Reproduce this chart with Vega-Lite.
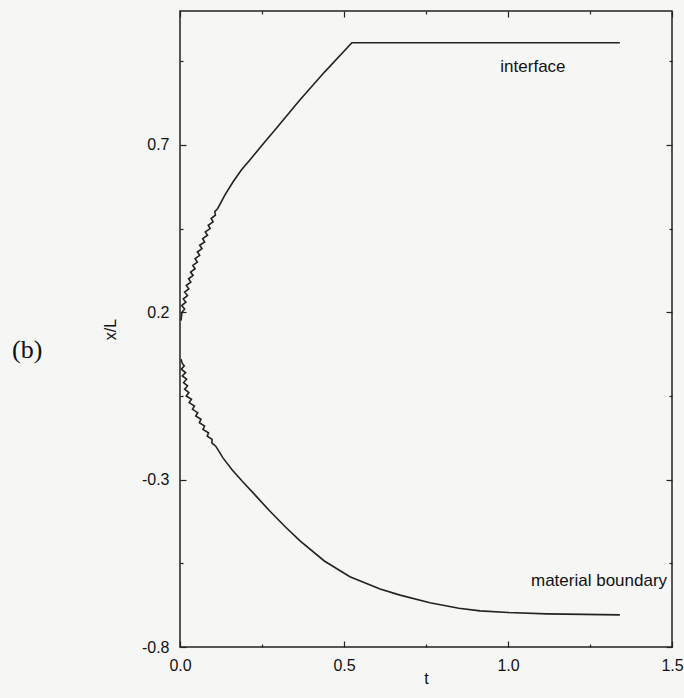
{
  "$schema": "https://vega.github.io/schema/vega-lite/v6.json",
  "width": 492,
  "height": 636,
  "autosize": "none",
  "padding": {"left": 180, "top": 11, "right": 12, "bottom": 51},
  "background": "#f6f6f4",
  "config": {
    "view": {"stroke": "#222", "strokeWidth": 1.5},
    "font": "Liberation Sans",
    "axis": {
      "domain": false, "grid": false, "labelFlush": false,
      "tickColor": "#222", "tickWidth": 1.2,
      "labelFont": "Liberation Sans", "labelFontSize": 16, "labelColor": "#111",
      "titleFont": "Liberation Sans", "titleFontSize": 16, "titleFontWeight": "normal", "titleColor": "#111"
    }
  },
  "datasets": {
    "curves": [
      {"curve": "interface", "i": 1, "t": 0.003, "xL": 0.175},
      {"curve": "interface", "i": 2, "t": 0.006, "xL": 0.2},
      {"curve": "interface", "i": 3, "t": 0.014, "xL": 0.21},
      {"curve": "interface", "i": 4, "t": 0.005, "xL": 0.22},
      {"curve": "interface", "i": 5, "t": 0.018, "xL": 0.23},
      {"curve": "interface", "i": 6, "t": 0.01, "xL": 0.24},
      {"curve": "interface", "i": 7, "t": 0.023, "xL": 0.25},
      {"curve": "interface", "i": 8, "t": 0.014, "xL": 0.26},
      {"curve": "interface", "i": 9, "t": 0.027, "xL": 0.27},
      {"curve": "interface", "i": 10, "t": 0.019, "xL": 0.28},
      {"curve": "interface", "i": 11, "t": 0.033, "xL": 0.29},
      {"curve": "interface", "i": 12, "t": 0.026, "xL": 0.3},
      {"curve": "interface", "i": 13, "t": 0.04, "xL": 0.31},
      {"curve": "interface", "i": 14, "t": 0.032, "xL": 0.32},
      {"curve": "interface", "i": 15, "t": 0.046, "xL": 0.33},
      {"curve": "interface", "i": 16, "t": 0.039, "xL": 0.34},
      {"curve": "interface", "i": 17, "t": 0.053, "xL": 0.35},
      {"curve": "interface", "i": 18, "t": 0.046, "xL": 0.36},
      {"curve": "interface", "i": 19, "t": 0.06, "xL": 0.37},
      {"curve": "interface", "i": 20, "t": 0.053, "xL": 0.38},
      {"curve": "interface", "i": 21, "t": 0.067, "xL": 0.39},
      {"curve": "interface", "i": 22, "t": 0.06, "xL": 0.4},
      {"curve": "interface", "i": 23, "t": 0.075, "xL": 0.41},
      {"curve": "interface", "i": 24, "t": 0.069, "xL": 0.42},
      {"curve": "interface", "i": 25, "t": 0.084, "xL": 0.43},
      {"curve": "interface", "i": 26, "t": 0.077, "xL": 0.44},
      {"curve": "interface", "i": 27, "t": 0.092, "xL": 0.45},
      {"curve": "interface", "i": 28, "t": 0.086, "xL": 0.46},
      {"curve": "interface", "i": 29, "t": 0.101, "xL": 0.47},
      {"curve": "interface", "i": 30, "t": 0.095, "xL": 0.48},
      {"curve": "interface", "i": 31, "t": 0.108, "xL": 0.49},
      {"curve": "interface", "i": 32, "t": 0.106, "xL": 0.5},
      {"curve": "interface", "i": 33, "t": 0.115, "xL": 0.51},
      {"curve": "interface", "i": 34, "t": 0.138, "xL": 0.552},
      {"curve": "interface", "i": 35, "t": 0.162, "xL": 0.59},
      {"curve": "interface", "i": 36, "t": 0.187, "xL": 0.625},
      {"curve": "interface", "i": 37, "t": 0.213, "xL": 0.655},
      {"curve": "interface", "i": 38, "t": 0.25, "xL": 0.699},
      {"curve": "interface", "i": 39, "t": 0.29, "xL": 0.745},
      {"curve": "interface", "i": 40, "t": 0.366, "xL": 0.835},
      {"curve": "interface", "i": 41, "t": 0.442, "xL": 0.919},
      {"curve": "interface", "i": 42, "t": 0.524, "xL": 1.005},
      {"curve": "interface", "i": 43, "t": 1.341, "xL": 1.005},
      {"curve": "material boundary", "i": 1, "t": 0.003, "xL": 0.06},
      {"curve": "material boundary", "i": 2, "t": 0.007, "xL": 0.047},
      {"curve": "material boundary", "i": 3, "t": 0.013, "xL": 0.04},
      {"curve": "material boundary", "i": 4, "t": 0.004, "xL": 0.03},
      {"curve": "material boundary", "i": 5, "t": 0.017, "xL": 0.02},
      {"curve": "material boundary", "i": 6, "t": 0.007, "xL": 0.01},
      {"curve": "material boundary", "i": 7, "t": 0.02, "xL": 0.0},
      {"curve": "material boundary", "i": 8, "t": 0.011, "xL": -0.01},
      {"curve": "material boundary", "i": 9, "t": 0.023, "xL": -0.02},
      {"curve": "material boundary", "i": 10, "t": 0.014, "xL": -0.03},
      {"curve": "material boundary", "i": 11, "t": 0.027, "xL": -0.04},
      {"curve": "material boundary", "i": 12, "t": 0.019, "xL": -0.05},
      {"curve": "material boundary", "i": 13, "t": 0.035, "xL": -0.06},
      {"curve": "material boundary", "i": 14, "t": 0.028, "xL": -0.07},
      {"curve": "material boundary", "i": 15, "t": 0.044, "xL": -0.08},
      {"curve": "material boundary", "i": 16, "t": 0.038, "xL": -0.09},
      {"curve": "material boundary", "i": 17, "t": 0.054, "xL": -0.1},
      {"curve": "material boundary", "i": 18, "t": 0.048, "xL": -0.11},
      {"curve": "material boundary", "i": 19, "t": 0.064, "xL": -0.12},
      {"curve": "material boundary", "i": 20, "t": 0.059, "xL": -0.13},
      {"curve": "material boundary", "i": 21, "t": 0.075, "xL": -0.14},
      {"curve": "material boundary", "i": 22, "t": 0.07, "xL": -0.15},
      {"curve": "material boundary", "i": 23, "t": 0.087, "xL": -0.16},
      {"curve": "material boundary", "i": 24, "t": 0.083, "xL": -0.17},
      {"curve": "material boundary", "i": 25, "t": 0.098, "xL": -0.18},
      {"curve": "material boundary", "i": 26, "t": 0.097, "xL": -0.19},
      {"curve": "material boundary", "i": 27, "t": 0.109, "xL": -0.2},
      {"curve": "material boundary", "i": 28, "t": 0.131, "xL": -0.235},
      {"curve": "material boundary", "i": 29, "t": 0.16, "xL": -0.272},
      {"curve": "material boundary", "i": 30, "t": 0.19, "xL": -0.305},
      {"curve": "material boundary", "i": 31, "t": 0.23, "xL": -0.347},
      {"curve": "material boundary", "i": 32, "t": 0.27, "xL": -0.39},
      {"curve": "material boundary", "i": 33, "t": 0.32, "xL": -0.44},
      {"curve": "material boundary", "i": 34, "t": 0.366, "xL": -0.483},
      {"curve": "material boundary", "i": 35, "t": 0.44, "xL": -0.543},
      {"curve": "material boundary", "i": 36, "t": 0.518, "xL": -0.59},
      {"curve": "material boundary", "i": 37, "t": 0.61, "xL": -0.627},
      {"curve": "material boundary", "i": 38, "t": 0.671, "xL": -0.645},
      {"curve": "material boundary", "i": 39, "t": 0.762, "xL": -0.668},
      {"curve": "material boundary", "i": 40, "t": 0.85, "xL": -0.684},
      {"curve": "material boundary", "i": 41, "t": 0.915, "xL": -0.692},
      {"curve": "material boundary", "i": 42, "t": 1.0, "xL": -0.697},
      {"curve": "material boundary", "i": 43, "t": 1.118, "xL": -0.701},
      {"curve": "material boundary", "i": 44, "t": 1.341, "xL": -0.704}
    ]
  },
  "resolve": {"axis": {"x": "independent", "y": "independent"}},
  "layer": [
    {
      "data": {"name": "curves"},
      "mark": {"type": "line", "color": "#222", "strokeWidth": 1.6, "strokeJoin": "miter"},
      "encoding": {
        "x": {"field": "t", "type": "quantitative",
          "scale": {"domain": [0, 1.5], "nice": false, "zero": false},
          "axis": {"orient": "bottom", "values": [0, 0.5, 1, 1.5], "format": ".1f", "labelExpr": "replace(datum.label, '\u2212', '-')", "tickSize": -6, "labelPadding": 16,
            "title": "t", "titleX": 246, "titleY": 31, "titleBaseline": "middle", "titleAlign": "center"}},
        "y": {"field": "xL", "type": "quantitative",
          "scale": {"domain": [-0.8, 1.1], "nice": false, "zero": false},
          "axis": {"orient": "left", "values": [-0.8, -0.3, 0.2, 0.7], "format": ".1f", "labelExpr": "replace(datum.label, '\u2212', '-')", "tickSize": -6, "labelPadding": 17,
            "title": "x/L", "titleX": -70, "titleY": 318, "titleAngle": -90, "titleBaseline": "middle", "titleAlign": "center"}},
        "detail": {"field": "curve"},
        "order": {"field": "i", "type": "quantitative"}
      }
    },
    {
      "data": {"values": [{"t": 1.076, "xL": 0.934, "label": "interface"}]},
      "mark": {"type": "text", "font": "Liberation Sans", "fontSize": 17, "color": "#111", "align": "center", "baseline": "middle"},
      "encoding": {
        "x": {"field": "t", "type": "quantitative",
          "axis": {"orient": "top", "values": [0, 0.5, 1, 1.5], "labels": false, "tickSize": -6, "title": null}},
        "y": {"field": "xL", "type": "quantitative",
          "axis": {"orient": "right", "values": [-0.8, -0.3, 0.2, 0.7], "labels": false, "tickSize": -6, "title": null}},
        "text": {"field": "label"}
      }
    },
    {
      "data": {"values": [{"t": 1.485, "xL": -0.602, "label": "material boundary"}]},
      "mark": {"type": "text", "font": "Liberation Sans", "fontSize": 17, "color": "#111", "align": "right", "baseline": "middle"},
      "encoding": {
        "x": {"field": "t", "type": "quantitative",
          "axis": {"orient": "bottom", "values": [0.25, 0.75, 1.25], "labels": false, "tickSize": -3, "title": null}},
        "y": {"field": "xL", "type": "quantitative",
          "axis": {"orient": "left", "values": [-0.55, -0.05, 0.45, 0.95], "labels": false, "tickSize": -3, "title": null}},
        "text": {"field": "label"}
      }
    },
    {
      "data": {"values": [{"t": -0.466, "xL": 0.086, "label": "(b)"}]},
      "mark": {"type": "text", "font": "Liberation Serif", "fontSize": 26, "color": "#111", "align": "center", "baseline": "middle"},
      "encoding": {
        "x": {"field": "t", "type": "quantitative",
          "axis": {"orient": "top", "values": [0.25, 0.75, 1.25], "labels": false, "tickSize": -3, "title": null}},
        "y": {"field": "xL", "type": "quantitative",
          "axis": {"orient": "right", "values": [-0.55, -0.05, 0.45, 0.95], "labels": false, "tickSize": -3, "title": null}},
        "text": {"field": "label"}
      }
    }
  ]
}
